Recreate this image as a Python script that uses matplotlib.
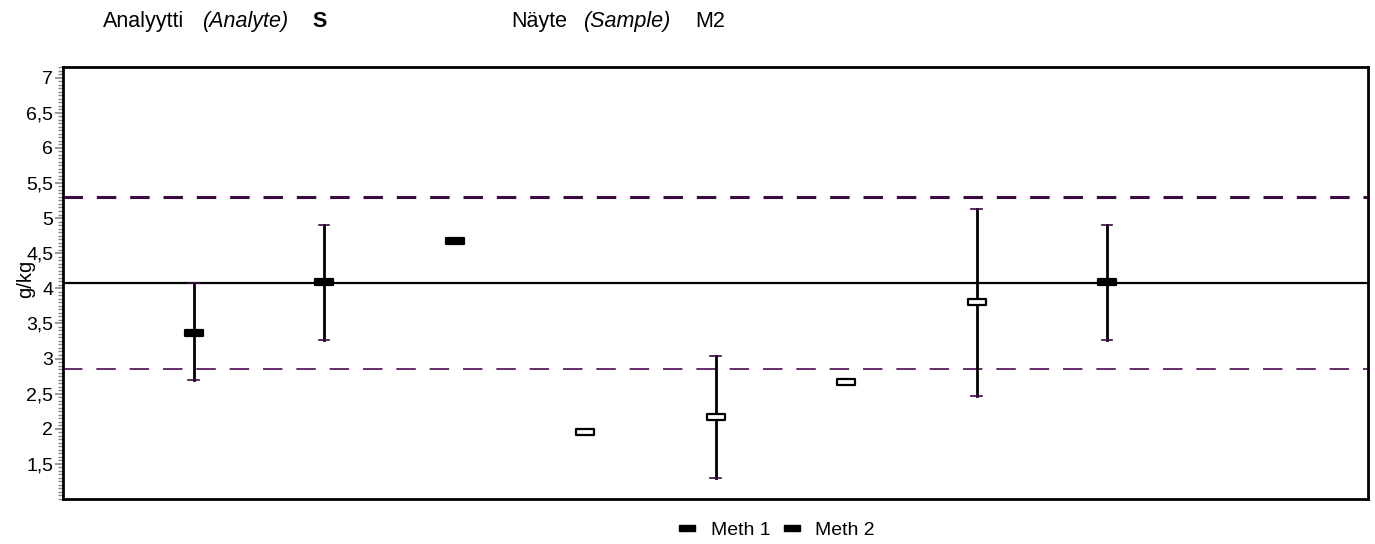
import numpy as np
import matplotlib
matplotlib.use("Agg")
import matplotlib.pyplot as plt
from matplotlib.path import Path
from matplotlib.ticker import FixedLocator, MultipleLocator, FuncFormatter

plt.rcParams["font.family"] = ["Liberation Sans", "DejaVu Sans"]
plt.rcParams["lines.scale_dashes"] = False

# results per lab (x = lab slot), value and uncertainty limits (g/kg)
meth1_x = [1, 2, 3, 8]
meth1_val = [3.37, 4.09, 4.67, 4.09]
meth1_low = [2.70, 3.26, np.nan, 3.27]
meth1_high = [4.07, 4.90, np.nan, 4.90]

meth2_x = [4, 5, 6, 7]
meth2_val = [1.96, 2.17, 2.66, 3.81]
meth2_low = [np.nan, 1.30, np.nan, 2.46]
meth2_high = [np.nan, 3.04, np.nan, 5.13]

ref_value = 4.08
ref_upper = 5.30
ref_lower = 2.85

yticks = [1.5, 2, 2.5, 3, 3.5, 4, 4.5, 5, 5.5, 6, 6.5, 7]

fig = plt.figure(figsize=(13.75, 5.44), dpi=100)
ax = fig.add_axes([63 / 1375, 1 - 499 / 544, 1305 / 1375, 432 / 544])

# rectangle marker
rect = Path([(-1.3, -0.5), (1.3, -0.5), (1.3, 0.5), (-1.3, 0.5), (-1.3, -0.5)],
            [Path.MOVETO, Path.LINETO, Path.LINETO, Path.LINETO, Path.CLOSEPOLY])

ax.axhline(ref_value, color="black", lw=1.6, zorder=2)
ax.axhline(ref_upper, color="#3a0a40", lw=2.2, dashes=(14, 10), zorder=2)
ax.axhline(ref_lower, color="#5a1a60", lw=1.3, dashes=(14, 10), zorder=2)


def draw(xs, vals, lows, highs, face):
    for x, v, lo, hi in zip(xs, vals, lows, highs):
        if not np.isnan(lo):
            ax.plot([x, x], [lo, hi], color="black", lw=2, zorder=3)
            ax.plot([x - 0.04, x + 0.04], [lo, lo], color="#3a0a40", lw=1.2, zorder=3)
            ax.plot([x - 0.04, x + 0.04], [hi, hi], color="#3a0a40", lw=1.2, zorder=3)
    ax.plot(xs, vals, ls="none", marker=rect, markersize=13,
            markerfacecolor=face, markeredgecolor="black", markeredgewidth=1.6, zorder=4)


draw(meth1_x, meth1_val, meth1_low, meth1_high, "black")
draw(meth2_x, meth2_val, meth2_low, meth2_high, "white")

ax.set_xlim(0, 10)
ax.set_ylim(1.0, 7.15)
ax.set_xticks([])
ax.yaxis.set_major_locator(FixedLocator(yticks))
ax.yaxis.set_minor_locator(MultipleLocator(0.05))
ax.yaxis.set_major_formatter(FuncFormatter(lambda v, p: ("%g" % v).replace(".", ",")))
ax.tick_params(axis="y", which="major", direction="out", length=6, width=1.2,
               color="#888888", labelsize=14, pad=1)
ax.tick_params(axis="y", which="minor", direction="out", length=3.5, width=1.0,
               color="#888888")
for s in ax.spines.values():
    s.set_linewidth(2)
ax.set_ylabel("g/kg", fontsize=14.5, labelpad=0)
ax.yaxis.set_label_coords(-0.021, 0.51)

# header texts
hy = 1 - 27 / 544
fig.text(103 / 1375, hy, "Analyytti", fontsize=15.5, va="baseline")
fig.text(203 / 1375, hy, "(Analyte)", fontsize=15.5, style="italic", va="baseline")
fig.text(312 / 1375, hy, "S", fontsize=15.5, fontweight="bold", va="baseline")
fig.text(511 / 1375, hy, "Näyte", fontsize=15.5, va="baseline")
fig.text(584 / 1375, hy, "(Sample)", fontsize=15.5, style="italic", va="baseline")
fig.text(695 / 1375, hy, "M2", fontsize=15.5, va="baseline")

# legend
h1, = ax.plot([], [], ls="none", marker=rect, markersize=11, color="black")
h2, = ax.plot([], [], ls="none", marker=rect, markersize=11, color="black")
fig.legend([h1, h2], ["Meth 1", "Meth 2"], loc="center", bbox_to_anchor=(776 / 1375, 1 - 530 / 544),
           ncol=2, frameon=False, fontsize=14, handlelength=1.0, handletextpad=0.7,
           columnspacing=0.6, borderpad=0)

fig.savefig("out.png", dpi=100)
